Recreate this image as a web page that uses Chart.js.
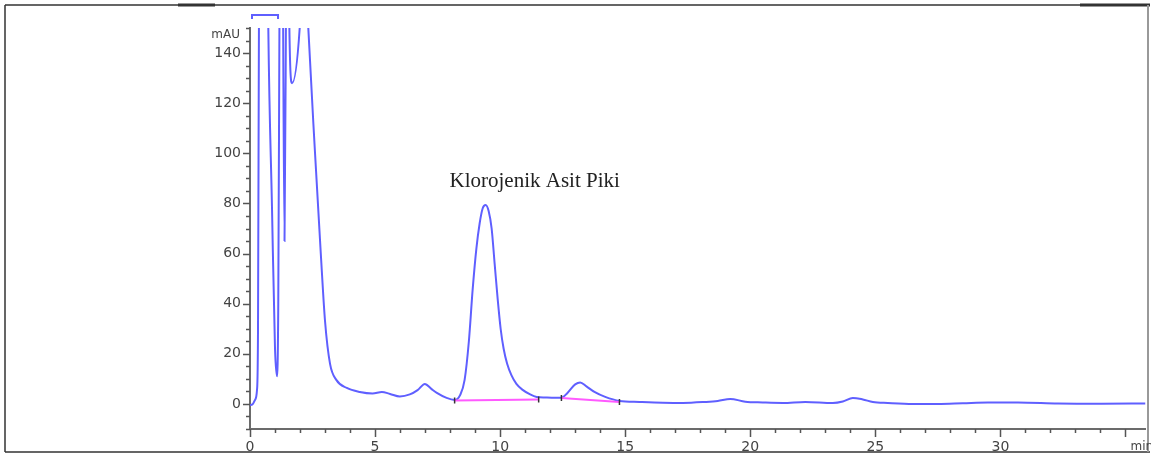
<!DOCTYPE html>
<html>
<head>
<meta charset="utf-8">
<script src="https://cdn.jsdelivr.net/npm/chart.js@4.4.1/dist/chart.umd.min.js"></script>
<style>
  body { margin: 0; background: #fff; }
  #wrap { width: 1151px; height: 457px; position: relative; }
</style>
</head>
<body>
<div id="wrap"><canvas id="canvas"></canvas></div>
<script>
// retention time (min) and detector signal (mAU)
var times = [0, 0.1, 0.2, 0.28, 0.32, 0.36, 0.54, 0.72, 0.88, 1.0,
  1.08, 1.13, 1.18, 1.25, 1.32, 1.38, 1.44, 1.5, 1.56, 1.68,
  2.0, 2.16, 2.32, 2.6, 2.83, 3.0, 3.2, 3.45, 3.87, 4.39,
  4.9, 5.27, 5.6, 5.99, 6.39, 6.7, 6.99, 7.25, 7.47, 7.86,
  8.18, 8.4, 8.58, 8.75, 8.9, 9.05, 9.18, 9.3, 9.42, 9.54,
  9.66, 9.78, 9.9, 10.02, 10.14, 10.28, 10.45, 10.65, 10.9, 11.2,
  11.46, 11.8, 12.2, 12.45, 12.7, 13.0, 13.2, 13.45, 13.77, 14.2,
  14.77, 15.57, 16.5, 17.3, 18.2, 18.7, 19.2, 19.8, 20.5, 21.3,
  22.2, 23.3, 23.7, 24.1, 24.5, 24.9, 25.5, 26.5, 27.5, 28.5,
  29.5, 30.7, 32.3, 34, 35.8];
var absorbance = [-0.4, -0.2, 1.6, 5.6, 30, 160, 400, 160, 78, 22,
  11, 40, 160, 300, 160, 65, 160, 300, 160, 128,
  152, 190, 152, 100, 60, 33, 16, 9.6, 6.4, 4.8,
  4.2, 4.8, 4.0, 3.0, 3.8, 5.5, 8.0, 6.0, 4.4, 2.4,
  1.6, 3.5, 9.6, 25, 45.5, 62, 72, 78, 79.4, 77,
  70, 56, 42, 30, 22, 16, 11.5, 8, 5.6, 3.8,
  2.8, 2.6, 2.5, 2.5, 4.5, 7.8, 8.6, 7, 4.8, 2.8,
  1.2, 0.8, 0.5, 0.4, 0.8, 1.2, 2.0, 0.9, 0.6, 0.4,
  0.8, 0.4, 1.0, 2.4, 1.8, 0.8, 0.4, 0.0, 0.0, 0.3,
  0.6, 0.6, 0.2, 0.1, 0.2];

// integration baselines under the two peaks
var base1Times = [8.18, 11.54];
var base1Values = [1.4, 1.8];
var base2Times = [12.45, 14.77];
var base2Values = [2.4, 0.8];

var xTicks = [0, 5, 10, 15, 20, 25, 30, 35];
var yTicks = [0, 20, 40, 60, 80, 100, 120, 140];

var peakLabel = 'Klorojenik Asit Piki';
var peakLabelAt = [11.38, 88.6];

var lineBlue = 'rgb(95,95,255)';

function toPoints(xs, ys) {
  return xs.map(function(x, i) { return {x: x, y: ys[i]}; });
}

var extras = {
  id: 'extras',
  afterDraw: function(chart) {
    var c = chart.ctx, xs = chart.scales.x, ys = chart.scales.y;
    var top = chart.chartArea.top, bottom = chart.chartArea.bottom;
    var left = chart.chartArea.left;
    c.save();

    // page frame
    c.strokeStyle = '#333';
    c.lineWidth = 1.5;
    c.beginPath();
    c.moveTo(5, 5); c.lineTo(1150, 5);
    c.moveTo(5, 5); c.lineTo(5, 452);
    c.moveTo(5, 452); c.lineTo(1150, 452);
    c.stroke();
    c.lineWidth = 3;
    c.beginPath();
    c.moveTo(178, 5); c.lineTo(215, 5);
    c.moveTo(1080, 5); c.lineTo(1150, 5);
    c.stroke();
    c.strokeStyle = '#999';
    c.lineWidth = 2;
    c.beginPath();
    c.moveTo(1148, 5); c.lineTo(1148, 452);
    c.stroke();

    // tick marks
    c.strokeStyle = '#555';
    c.lineWidth = 1.5;
    c.beginPath();
    for (var t = 0; t <= 35; t++) {
      var px = Math.round(xs.getPixelForValue(t)) + 0.5;
      c.moveTo(px, bottom);
      c.lineTo(px, bottom + (t % 5 === 0 ? 8 : 4));
    }
    for (var v = -10; v <= 150; v += 5) {
      var py = Math.round(ys.getPixelForValue(v)) + 0.5;
      c.moveTo(left, py);
      c.lineTo(left - (v % 20 === 0 ? 7 : 4), py);
    }
    c.stroke();

    // axis units
    c.fillStyle = '#444';
    c.font = '12px "DejaVu Sans"';
    c.textAlign = 'right';
    c.textBaseline = 'middle';
    c.fillText('mAU', left - 10, top + 7);
    c.textAlign = 'left';
    c.fillText('min', xs.getPixelForValue(35) + 5, bottom + 18);

    // bracket over the solvent front
    c.strokeStyle = lineBlue;
    c.lineWidth = 2;
    var b0 = xs.getPixelForValue(0.08), b1 = xs.getPixelForValue(1.12);
    c.beginPath();
    c.moveTo(b0, 19); c.lineTo(b0, 15); c.lineTo(b1, 15); c.lineTo(b1, 19);
    c.stroke();

    // peak name
    c.fillStyle = '#222';
    c.font = '21px "Liberation Serif"';
    c.textAlign = 'center';
    c.textBaseline = 'middle';
    c.fillText(peakLabel, xs.getPixelForValue(peakLabelAt[0]), ys.getPixelForValue(peakLabelAt[1]));

    c.restore();
  }
};

var baseStyle = {
  borderColor: 'rgb(255,90,255)',
  borderWidth: 2,
  pointStyle: 'line',
  rotation: 90,
  pointRadius: 3,
  pointBorderColor: '#333',
  pointBorderWidth: 1.5,
  fill: false
};

var ctx = document.getElementById('canvas').getContext('2d');
var myChart = new Chart(ctx, {
  type: 'line',
  data: {
    datasets: [
      Object.assign({ data: toPoints(base1Times, base1Values) }, baseStyle),
      Object.assign({ data: toPoints(base2Times, base2Values) }, baseStyle),
      {
        data: toPoints(times, absorbance),
        borderColor: lineBlue,
        borderWidth: 2,
        pointRadius: 0,
        cubicInterpolationMode: 'monotone',
        fill: false
      }
    ]
  },
  options: {
    responsive: true,
    maintainAspectRatio: false,
    animation: false,
    layout: { padding: { top: 28, right: 4, left: 0, bottom: 0 } },
    plugins: { legend: { display: false }, tooltip: { enabled: false } },
    scales: {
      x: {
        type: 'linear',
        min: 0,
        max: 35.8,
        afterFit: function(s) { s.height = 28; },
        afterBuildTicks: function(s) { s.ticks = xTicks.map(function(v) { return {value: v}; }); },
        border: { display: true, color: '#6b6b6b', width: 2 },
        grid: { display: false, drawTicks: false },
        ticks: {
          autoSkip: false, maxRotation: 0, padding: 10, color: '#444',
          font: { family: 'DejaVu Sans', size: 14 },
          callback: function(v) { return v === 35 ? '' : v; }
        }
      },
      y: {
        min: -10,
        max: 150,
        afterFit: function(s) { s.width = 250; },
        afterBuildTicks: function(s) { s.ticks = yTicks.map(function(v) { return {value: v}; }); },
        border: { display: true, color: '#6b6b6b', width: 2 },
        grid: { display: false, drawTicks: false },
        ticks: {
          padding: 9, color: '#444',
          font: { family: 'DejaVu Sans', size: 14 }
        }
      }
    }
  },
  plugins: [extras]
});
</script>
</body>
</html>
